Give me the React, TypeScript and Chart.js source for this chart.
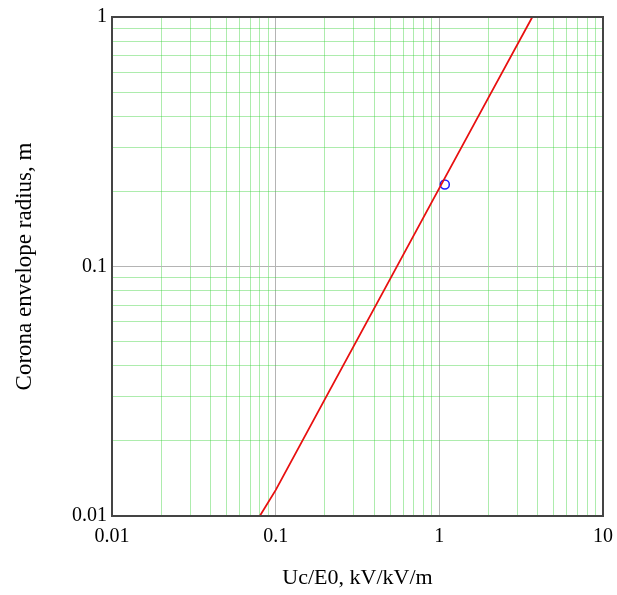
import React, { useEffect, useRef } from "react";
import { Chart, registerables } from "chart.js";

Chart.register(...registerables);

// Curve (x: Uc/E0, y: corona envelope radius)
const curveX = [0.08, 0.1, 0.2, 0.5, 1, 2, 3.7];
const curveY = [0.01, 0.0127, 0.0294, 0.089, 0.206, 0.476, 1.0];
// Marked point
const markX = [1.08];
const markY = [0.213];

const X_DECADES = [0.01, 0.1, 1, 10];
const Y_DECADES = [0.01, 0.1, 1];
const X_TICK_LABELS = ["0.01", "0.1", "1", "10"];
const Y_TICK_LABELS = ["0.01", "0.1", "1"];
const MINOR_MULT = [2, 3, 4, 5, 6, 7, 8, 9];

function buildTicks(decades: number[]) {
  const vals: number[] = [];
  decades.forEach((d, i) => {
    vals.push(d);
    if (i < decades.length - 1) {
      MINOR_MULT.forEach((m) => vals.push(Number((m * d).toPrecision(3))));
    }
  });
  return vals;
}

const isDecade = (v: number, decades: number[]) =>
  decades.some((d) => Math.abs(v - d) / d < 1e-6);

const frame = {
  id: "frame",
  afterDatasetsDraw(chart: any) {
    const { ctx, chartArea } = chart;
    ctx.save();
    ctx.strokeStyle = "#444444";
    ctx.lineWidth = 2;
    ctx.strokeRect(chartArea.left, chartArea.top, chartArea.right - chartArea.left, chartArea.bottom - chartArea.top);
    ctx.restore();
  },
};

export default function App() {
  const ref = useRef<HTMLCanvasElement>(null);
  useEffect(() => {
    document.body.style.margin = "0";
    const xt = buildTicks(X_DECADES);
    const yt = buildTicks(Y_DECADES);
    const family = "'Liberation Serif', 'Times New Roman', serif";
    const font = { family, size: 20 };
    const chart = new Chart(ref.current!, {
      type: "scatter",
      data: {
        datasets: [
          {
            data: curveX.map((x, i) => ({ x, y: curveY[i] })),
            showLine: true,
            borderColor: "#e81010",
            borderWidth: 1.8,
            pointRadius: 0,
            tension: 0,
          },
          {
            data: markX.map((x, i) => ({ x, y: markY[i] })),
            showLine: false,
            pointRadius: 4.5,
            pointBorderColor: "#1a1aff",
            pointBackgroundColor: "rgba(0,0,0,0)",
            pointBorderWidth: 1.5,
          },
        ],
      },
      options: {
        responsive: false,
        animation: false,
        layout: { padding: { top: 17, right: 14, left: 0, bottom: 0 } },
        plugins: { legend: { display: false }, tooltip: { enabled: false } },
        scales: {
          x: {
            type: "logarithmic",
            min: 0.01,
            max: 10,
            border: { display: false },
            afterBuildTicks: (s: any) => {
              s.ticks = xt.map((v) => ({ value: v, major: isDecade(v, X_DECADES) }));
            },
            afterFit: (s: any) => {
              s.height = 79;
              s.paddingLeft = 0;
              s.paddingRight = 0;
            },
            ticks: {
              autoSkip: false,
              maxRotation: 0,
              padding: 9,
              color: "#000",
              font,
              callback: (v: any) => {
                const i = X_DECADES.findIndex((d) => Math.abs(v - d) / d < 1e-6);
                return i >= 0 ? X_TICK_LABELS[i] : "";
              },
            },
            grid: {
              drawTicks: false,
              color: (c: any) => (c.tick && isDecade(c.tick.value, X_DECADES) ? "#b4b4b4" : "rgba(60,210,60,0.42)"),
              lineWidth: 1,
            },
            title: {
              display: true,
              text: "Uc/E0, kV/kV/m",
              color: "#000",
              font: { family, size: 22 },
              padding: { top: 14 },
            },
          },
          y: {
            type: "logarithmic",
            min: 0.01,
            max: 1,
            border: { display: false },
            afterBuildTicks: (s: any) => {
              s.ticks = yt.map((v) => ({ value: v, major: isDecade(v, Y_DECADES) }));
            },
            afterFit: (s: any) => {
              s.width = 112;
            },
            ticks: {
              autoSkip: false,
              padding: 5,
              color: "#000",
              font,
              callback: (v: any) => {
                const i = Y_DECADES.findIndex((d) => Math.abs(v - d) / d < 1e-6);
                return i >= 0 ? Y_TICK_LABELS[i] : "";
              },
            },
            grid: {
              drawTicks: false,
              color: (c: any) => (c.tick && isDecade(c.tick.value, Y_DECADES) ? "#b4b4b4" : "rgba(60,210,60,0.42)"),
              lineWidth: 1,
            },
            title: {
              display: true,
              text: "Corona envelope radius, m",
              color: "#000",
              font: { family, size: 23 },
              padding: { top: 11, bottom: 0 },
            },
          },
        },
      },
      plugins: [frame],
    } as any);
    return () => chart.destroy();
  }, []);
  return (
    <div style={{ position: "absolute", left: 0, top: 0, width: 617, height: 595 }}>
      <canvas ref={ref} width={617} height={595} />
    </div>
  );
}
